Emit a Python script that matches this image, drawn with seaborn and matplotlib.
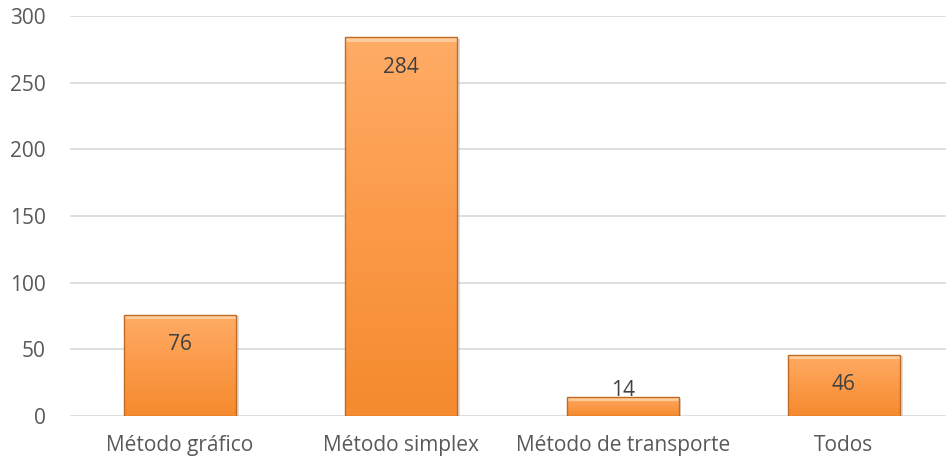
import numpy as np
import pandas as pd
import matplotlib
matplotlib.use("Agg")
import matplotlib.pyplot as plt
import seaborn as sns
from matplotlib.colors import LinearSegmentedColormap

categories = ["Método gráfico", "Método simplex", "Método de transporte", "Todos"]
values = [76, 284, 14, 46]
yticks = [0, 50, 100, 150, 200, 250, 300]

sns.set_theme(style="white")
plt.rcParams["font.family"] = ["Open Sans", "DejaVu Sans"]

W, H, DPI = 946, 461, 100
fig = plt.figure(figsize=(W / DPI, H / DPI), dpi=DPI)
left, right = 69.5, 954.5
bottom, top = 416, 16
ax = fig.add_axes([left / W, (H - bottom) / H, (right - left) / W, (bottom - top) / H])

df = pd.DataFrame({"cat": categories, "val": values})
sns.barplot(data=df, x="cat", y="val", ax=ax, width=0.506, color="#F79646",
            saturation=1, zorder=3)

ax.set_ylim(0, 300)
ax.set_xlim(-0.5, 3.5)
ax.set_yticks(yticks)
ax.set_xlabel("")
ax.set_ylabel("")
for s in ax.spines.values():
    s.set_visible(False)
ax.yaxis.grid(True, color="#D9D9D9", linewidth=1.2, zorder=0)
ax.set_axisbelow(True)
ax.tick_params(axis="both", length=0, labelsize=15, colors="#595959")
ax.tick_params(axis="y", pad=17)
ax.tick_params(axis="x", pad=14)
for lab in ax.get_yticklabels():
    lab.set_horizontalalignment("right")

cmap = LinearSegmentedColormap.from_list("org", ["#FFAC66", "#FB9A48", "#F58A2E"])
grad = np.linspace(0, 1, 256).reshape(-1, 1)
for p in list(ax.patches):
    x0, y0 = p.get_x(), p.get_y()
    w, h = p.get_width(), p.get_height()
    p.set_facecolor("none")
    p.set_edgecolor("#C06A22")
    p.set_linewidth(1.0)
    sh = plt.Rectangle((x0 + 0.012, y0), w, h - 1.2, facecolor="#BBBBBB", edgecolor="none",
                       alpha=0.5, zorder=2)
    ax.add_patch(sh)
    im = ax.imshow(grad, cmap=cmap, aspect="auto", extent=(x0, x0 + w, y0, y0 + h),
                   zorder=3, interpolation="bicubic")
    im.set_clip_path(p)
    tb = plt.Rectangle((x0, y0 + h - min(3.5, h * 0.2)), w, min(3.5, h * 0.2),
                       facecolor="#FFD9AE", edgecolor="none", alpha=0.75, zorder=3.5)
    ax.add_patch(tb)
    p.set_zorder(4)

for i, v in enumerate(values):
    if v >= 30:
        ax.annotate(str(v), (i, v), xytext=(0, -21.5), textcoords="offset points",
                    ha="center", va="center", fontsize=15, color="#404040", zorder=6)
    else:
        ax.annotate(str(v), (i, v), xytext=(0, 5), textcoords="offset points",
                    ha="center", va="center", fontsize=15, color="#404040", zorder=6)

ax.set_xlim(-0.5, 3.5)
fig.savefig("out.png", dpi=DPI, facecolor="white")
